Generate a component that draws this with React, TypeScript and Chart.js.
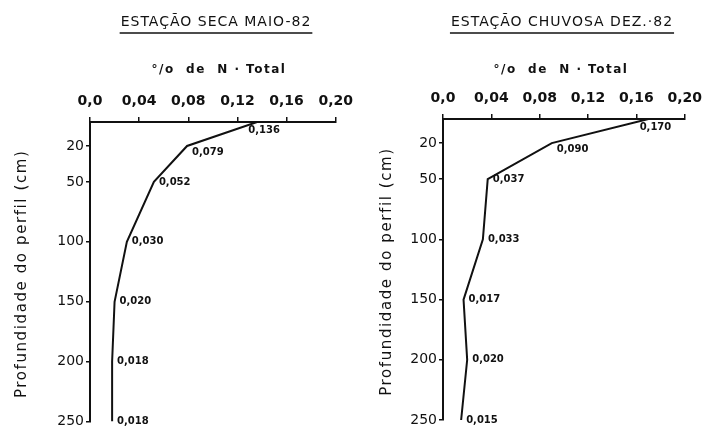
import React, { useEffect, useRef } from "react";
import { Chart, registerables } from "chart.js";

Chart.register(...registerables);

// ---- data ----
const depths = [0, 20, 50, 100, 150, 200, 250];
const drySeason = [0.136, 0.079, 0.052, 0.03, 0.02, 0.018, 0.018];
const wetSeason = [0.17, 0.09, 0.037, 0.033, 0.017, 0.02, 0.015];
const xTickValues = [0, 0.04, 0.08, 0.12, 0.16, 0.2];
const xTickLabels = ["0,0", "0,04", "0,08", "0,12", "0,16", "0,20"];
const yTickValues = [20, 50, 100, 150, 200, 250];
const dryTitle = "ESTAÇÃO SECA MAIO-82";
const wetTitle = "ESTAÇÃO CHUVOSA DEZ.·82";
const subtitleText = "°/o  de  N · Total";
const yTitleText = "Profundidade do perfil (cm)";

const FONT = '"DejaVu Sans", "Liberation Sans", sans-serif';
const INK = "#111";

const fmt = (v: number) => v.toFixed(3).replace(".", ",");

const panelPlugin = {
  id: "panelText",
  afterDraw(chart: any, _args: any, opts: any) {
    const ctx = chart.ctx as CanvasRenderingContext2D;
    const area = chart.chartArea;
    ctx.save();
    ctx.fillStyle = INK;
    ctx.strokeStyle = INK;
    ctx.textAlign = "center";
    ctx.textBaseline = "middle";
    // title
    ctx.font = `14px ${FONT}`;
    (ctx as any).letterSpacing = "1px";
    ctx.fillText(opts.title, opts.titleX, 22);
    const w = ctx.measureText(opts.title).width;
    ctx.lineWidth = 1.5;
    ctx.beginPath();
    ctx.moveTo(opts.titleX - w / 2 - 1, 33);
    ctx.lineTo(opts.titleX + w / 2 + 1, 33);
    ctx.stroke();
    // subtitle
    ctx.font = `bold 12px ${FONT}`;
    (ctx as any).letterSpacing = "1.5px";
    ctx.fillText(opts.subtitle, opts.subX, 70);
    // y axis title
    ctx.font = `15px ${FONT}`;
    (ctx as any).letterSpacing = "1.6px";
    ctx.translate(opts.yTitleX, (area.top + area.bottom) / 2 + 2);
    ctx.rotate(-Math.PI / 2);
    ctx.fillText(opts.yTitle, 0, 0);
    (ctx as any).letterSpacing = "0px";
    ctx.restore();
  },
  afterDatasetsDraw(chart: any) {
    const ctx = chart.ctx as CanvasRenderingContext2D;
    const meta = chart.getDatasetMeta(0);
    const vals = chart.data.datasets[0].data as { x: number; y: number }[];
    ctx.save();
    ctx.fillStyle = INK;
    ctx.font = `bold 10px ${FONT}`;
    meta.data.forEach((pt: any, i: number) => {
      const label = fmt(vals[i].x);
      if (i === 0) {
        ctx.textAlign = "center";
        ctx.textBaseline = "middle";
        ctx.fillText(label, pt.x + 7, pt.y + 8);
      } else {
        ctx.textAlign = "left";
        ctx.textBaseline = "middle";
        ctx.fillText(label, pt.x + 5, pt.y + (i === 1 ? 6 : 0));
      }
    });
    ctx.restore();
  },
};

type PanelProps = {
  values: number[];
  title: string;
  width: number;
  left: number;
  axisTop: number;
  yAxisWidth: number;
  padRight: number;
  padBottom: number;
  titleX: number;
  subX: number;
  yTitleX: number;
};

function Panel(p: PanelProps) {
  const ref = useRef<HTMLCanvasElement | null>(null);
  useEffect(() => {
    if (!ref.current) return;
    const points = depths.map((d, i) => ({ x: p.values[i], y: d }));
    const chart = new Chart(ref.current, {
      type: "scatter",
      data: {
        datasets: [
          {
            data: points,
            showLine: true,
            borderColor: INK,
            borderWidth: 2,
            pointRadius: 0,
            tension: 0,
          },
        ],
      },
      options: {
        responsive: false,
        animation: false,
        devicePixelRatio: 1,
        layout: { padding: { top: 0, left: 0, right: p.padRight, bottom: p.padBottom } },
        plugins: {
          legend: { display: false },
          tooltip: { enabled: false },
          title: { display: false },
          panelText: {
            title: p.title,
            titleX: p.titleX,
            subtitle: subtitleText,
            subX: p.subX,
            yTitle: yTitleText,
            yTitleX: p.yTitleX,
          },
        } as any,
        scales: {
          x: {
            type: "linear",
            position: "top",
            min: 0,
            max: 0.2,
            afterBuildTicks: (scale: any) => {
              scale.ticks = xTickValues.map((v) => ({ value: v }));
            },
            afterFit: (scale: any) => {
              scale.height = p.axisTop;
            },
            ticks: {
              autoSkip: false,
              maxRotation: 0,
              padding: 7,
              color: INK,
              font: { family: FONT, size: 14, weight: "bold" },
              callback: (_v: any, i: number) => xTickLabels[i],
            },
            grid: {
              drawOnChartArea: false,
              drawTicks: true,
              tickLength: 5,
              color: INK,
              lineWidth: 1.5,
            },
            border: { display: true, color: INK, width: 2 },
          },
          y: {
            type: "linear",
            min: 0,
            max: 250,
            reverse: true,
            afterBuildTicks: (scale: any) => {
              scale.ticks = yTickValues.map((v) => ({ value: v }));
            },
            afterFit: (scale: any) => {
              scale.width = p.yAxisWidth;
            },
            ticks: {
              autoSkip: false,
              padding: 2,
              color: INK,
              font: { family: FONT, size: 14 },
              callback: (v: any) => String(v),
            },
            grid: {
              drawOnChartArea: false,
              drawTicks: true,
              tickLength: 4,
              color: INK,
              lineWidth: 1.5,
            },
            border: { display: true, color: INK, width: 2 },
            title: { display: false },
          },
        },
      },
      plugins: [panelPlugin as any],
    });
    return () => chart.destroy();
  }, []);
  return (
    <div style={{ position: "absolute", left: p.left, top: 0, width: p.width, height: 432 }}>
      <canvas ref={ref} width={p.width} height={432} style={{ display: "block" }} />
    </div>
  );
}

export default function App() {
  return (
    <div
      style={{
        position: "absolute",
        left: 0,
        top: 0,
        width: 709,
        height: 432,
        background: "#fff",
        overflow: "hidden",
      }}
    >
      <Panel
        values={drySeason}
        title={dryTitle}
        width={360}
        left={0}
        axisTop={122}
        yAxisWidth={90}
        padRight={20}
        padBottom={9}
        titleX={216}
        subX={219}
        yTitleX={22}
      />
      <Panel
        values={wetSeason}
        title={wetTitle}
        width={349}
        left={360}
        axisTop={119}
        yAxisWidth={83}
        padRight={21}
        padBottom={12}
        titleX={202}
        subX={201}
        yTitleX={27}
      />
    </div>
  );
}
